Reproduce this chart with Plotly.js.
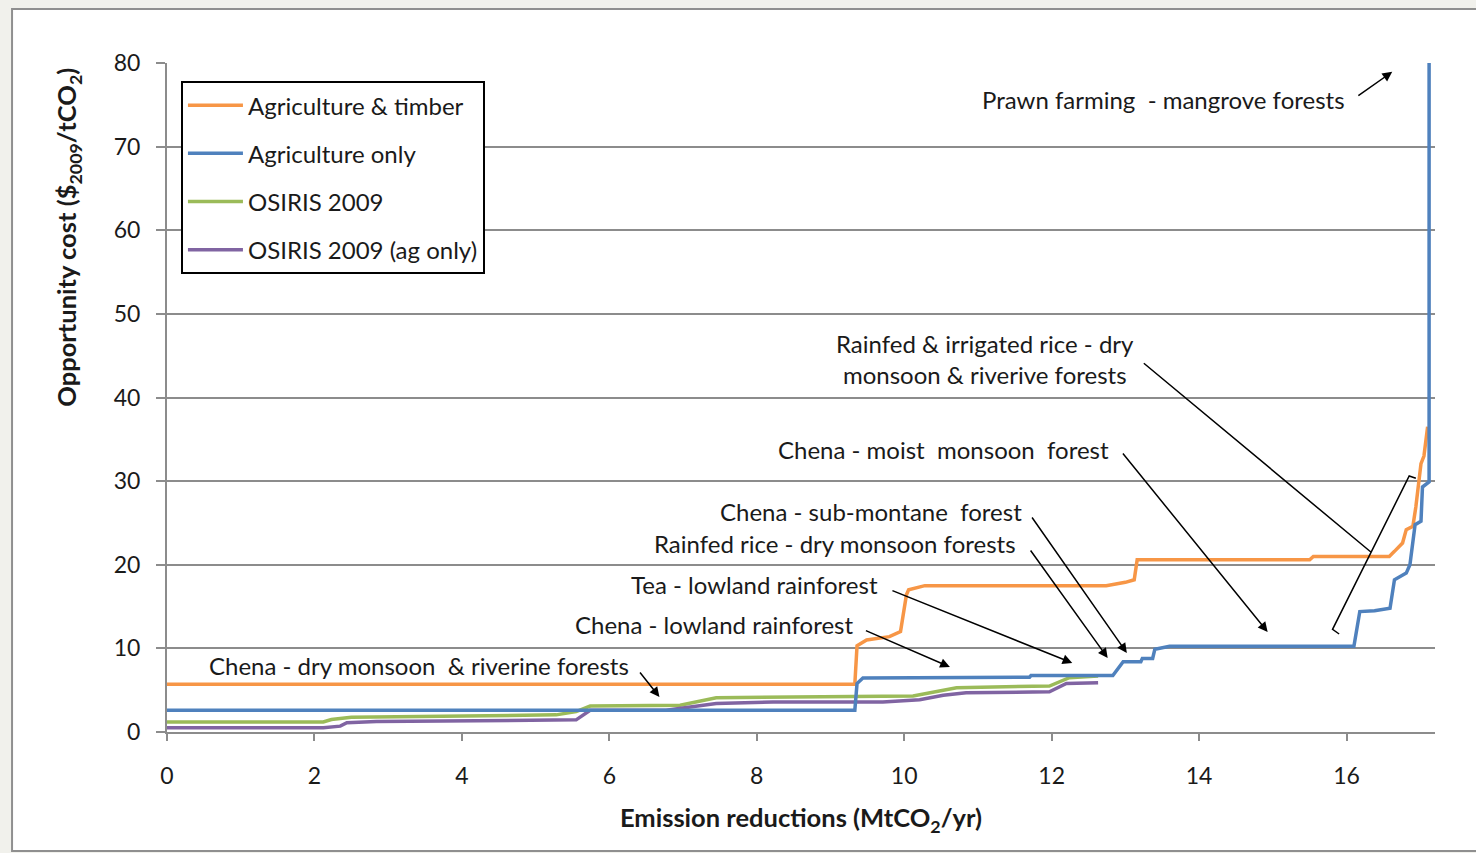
<!DOCTYPE html>
<html>
<head>
<meta charset="utf-8">
<script src="https://cdn.plot.ly/plotly-3.0.1.min.js"></script>
<style>
  html, body { margin: 0; padding: 0; background: #f1f1ec; }
  #chart { width: 1476px; height: 853px; }
</style>
</head>
<body>
<div id="chart"></div>
<script>
// Series names
const seriesNames = ["Agriculture & timber", "Agriculture only", "OSIRIS 2009", "OSIRIS 2009 (ag only)"];

// Agriculture & timber
const agTimberX = [0, 9.33, 9.36, 9.49, 9.80, 9.95, 10.03, 10.06, 10.28, 12.74, 13.0, 13.12, 13.16, 15.50, 15.55, 16.58, 16.65, 16.76, 16.81, 16.90, 16.94, 17.01, 17.05, 17.10];
const agTimberY = [5.7, 5.7, 10.3, 11.0, 11.4, 12.0, 16.4, 17.0, 17.5, 17.5, 17.9, 18.2, 20.6, 20.6, 21.0, 21.0, 21.6, 22.6, 24.2, 24.6, 26.9, 32.1, 33.0, 36.5];

// Agriculture only
const agOnlyX = [0, 9.33, 9.36, 9.44, 11.70, 11.72, 12.83, 12.90, 12.97, 13.21, 13.23, 13.37, 13.40, 13.60, 16.10, 16.18, 16.38, 16.59, 16.65, 16.81, 16.86, 16.93, 17.01, 17.03, 17.12, 17.12];
const agOnlyY = [2.6, 2.6, 5.8, 6.45, 6.55, 6.75, 6.75, 7.6, 8.4, 8.4, 8.8, 8.8, 9.9, 10.25, 10.25, 14.4, 14.5, 14.8, 18.2, 19.0, 20.0, 24.8, 25.2, 29.3, 29.9, 80];

// OSIRIS 2009
const osirisX = [0, 2.12, 2.23, 2.50, 5.28, 5.55, 5.74, 6.96, 7.45, 9.35, 10.12, 10.71, 11.97, 12.24, 12.63];
const osirisY = [1.2, 1.2, 1.5, 1.75, 2.05, 2.45, 3.1, 3.2, 4.1, 4.3, 4.3, 5.3, 5.5, 6.5, 6.7];

// OSIRIS 2009 (ag only)
const osirisAgX = [0, 2.12, 2.35, 2.44, 2.84, 5.28, 5.55, 5.74, 6.77, 7.45, 8.22, 9.71, 10.21, 10.53, 10.84, 11.97, 12.20, 12.63];
const osirisAgY = [0.5, 0.5, 0.7, 1.1, 1.25, 1.35, 1.45, 2.6, 2.6, 3.4, 3.6, 3.6, 3.85, 4.4, 4.7, 4.8, 5.8, 5.9];

// Axis ticks
const xTicks = [0, 2, 4, 6, 8, 10, 12, 14, 16];
const yTicks = [0, 10, 20, 30, 40, 50, 60, 70, 80];

// Callout labels: text, label anchor (x,y), arrow tail (x,y), arrow head (x,y)
const calloutText = [
  "Prawn farming  - mangrove forests",
  "Rainfed &amp; irrigated rice - dry<br>monsoon &amp; riverive forests",
  "Chena - moist  monsoon  forest",
  "Chena - sub-montane  forest",
  "Rainfed rice - dry monsoon forests",
  "Tea - lowland rainforest",
  "Chena - lowland rainforest",
  "Chena - dry monsoon  &amp; riverine forests"
];
const calloutLabelX = [16.01, 11.10, 12.81, 11.62, 11.55, 9.67, 9.33, 6.29];
const calloutLabelY = [75.6, 44.6, 33.8, 26.4, 22.5, 17.6, 12.8, 8.0];
const calloutAnchor = ["right", "center", "right", "right", "right", "right", "right", "right"];
const arrowTailX = [16.14, 13.23, 12.95, 11.72, 11.70, 9.82, 9.46, 6.40];
const arrowTailY = [75.96, 44.24, 33.48, 25.83, 21.88, 16.98, 12.20, 7.29];
const arrowHeadX = [16.62, 16.33, 14.93, 13.02, 12.76, 12.28, 10.62, 6.68];
const arrowHeadY = [78.95, 21.52, 11.96, 9.45, 8.85, 8.25, 7.77, 4.19];
const arrowHeadStyle = [2, 0, 2, 2, 2, 2, 2, 2];

// Stray connector line (hooked) near the right of the chart
const strayX = [15.90, 15.81, 16.85, 16.94];
const strayY = [11.72, 12.28, 30.61, 30.34];

const FONT = "Lato, 'Open Sans', sans-serif";
const TXT = "#1a1a1a";
const GRID = "#8c8c8c";

const colors = ["#F79646", "#4F81BD", "#9BBB59", "#8064A2"];
const xs = [agTimberX, agOnlyX, osirisX, osirisAgX];
const ys = [agTimberY, agOnlyY, osirisY, osirisAgY];

const traces = seriesNames.map((name, i) => ({
  type: "scatter",
  mode: "lines",
  name: name,
  x: xs[i],
  y: ys[i],
  legendgroup: "g" + i,
  legendrank: i + 1,
  line: { color: colors[i], width: 3.5 },
  hoverinfo: "x+y+name"
}));
// draw order: keep legend order but put blue on top of orange
const drawOrder = [0, 2, 3, 1];
const data = drawOrder.map(i => traces[i]);

const annotations = [];
calloutText.forEach((t, i) => {
  annotations.push({
    xref: "x", yref: "y",
    x: calloutLabelX[i], y: calloutLabelY[i],
    text: t, showarrow: false,
    xanchor: calloutAnchor[i], yanchor: "middle",
    align: "center",
    font: { family: FONT, size: 24, color: TXT }
  });
  annotations.push({
    xref: "x", yref: "y", axref: "x", ayref: "y",
    x: arrowHeadX[i], y: arrowHeadY[i],
    ax: arrowTailX[i], ay: arrowTailY[i],
    text: "", showarrow: true,
    arrowhead: arrowHeadStyle[i], arrowsize: 1.3, arrowwidth: 1.5,
    arrowcolor: "#000", standoff: 0, startstandoff: 0
  });
});
// Y-axis title placed as annotation (it is not centered on the axis in the reference)
annotations.push({
  xref: "paper", yref: "paper",
  x: -0.078, y: 0.739,
  text: "<b>Opportunity cost ($<sub>2009</sub>/tCO<sub>2</sub>)</b>",
  textangle: -90, showarrow: false,
  xanchor: "center", yanchor: "middle",
  font: { family: FONT, size: 25.5, color: TXT }
});

let strayPath = "M " + strayX[0] + "," + strayY[0];
for (let i = 1; i < strayX.length; i++) strayPath += " L " + strayX[i] + "," + strayY[i];

const layout = {
  width: 1476, height: 853,
  margin: { l: 167, r: 41, t: 63, b: 121 },
  paper_bgcolor: "#f1f1ec",
  plot_bgcolor: "rgba(0,0,0,0)",
  font: { family: FONT, size: 23, color: TXT },
  showlegend: true,
  legend: {
    x: 0.011, y: 0.973, xanchor: "left", yanchor: "top",
    bgcolor: "#ffffff", bordercolor: "#000", borderwidth: 2,
    font: { family: FONT, size: 24, color: TXT },
    itemwidth: 55,
    traceorder: "grouped", tracegroupgap: 14
  },
  xaxis: {
    range: [0, 17.2],
    tickvals: xTicks, ticktext: xTicks.map(String),
    ticks: "outside", ticklen: 7, tickwidth: 2, tickcolor: GRID,
    showline: true, linecolor: GRID, linewidth: 2,
    showgrid: false, zeroline: false,
    ticklabelstandoff: 15,
    tickfont: { family: FONT, size: 23, color: TXT },
    title: { text: "<b>Emission reductions (MtCO<sub>2</sub>/yr)</b>", standoff: 22,
             font: { family: FONT, size: 25.5, color: TXT } }
  },
  yaxis: {
    range: [0, 80],
    tickvals: yTicks, ticktext: yTicks.map(String),
    ticks: "outside", ticklen: 9, tickwidth: 2, tickcolor: GRID,
    showline: true, linecolor: GRID, linewidth: 2,
    showgrid: true, gridcolor: GRID, gridwidth: 2,
    zeroline: false,
    ticklabelstandoff: 11,
    tickfont: { family: FONT, size: 23, color: TXT }
  },
  shapes: [
    {
      type: "rect", layer: "below",
      xref: "paper", yref: "paper",
      x0: -0.1222, x1: 1.04, y0: -0.1779, y1: 1.0807,
      fillcolor: "#ffffff", line: { color: "#8f8f8f", width: 2 }
    },
    {
      type: "path", layer: "above", xref: "x", yref: "y",
      path: strayPath, line: { color: "#000", width: 1.5 }
    }
  ],
  annotations: annotations
};

Plotly.newPlot("chart", data, layout, { displayModeBar: false });
</script>
</body>
</html>
